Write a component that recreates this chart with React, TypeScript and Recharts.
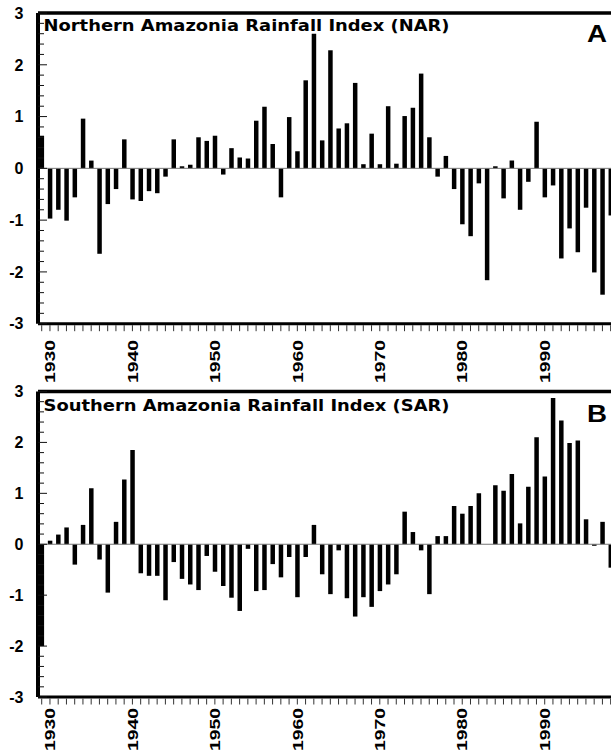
import React from 'react';
import { BarChart, Bar, XAxis, YAxis, ReferenceLine } from 'recharts';

const START_YEAR = 1929;

// Northern Amazonia Rainfall Index (NAR), 1929-1998
const narValues = [
  0.63, -0.97, -0.8, -1.01, -0.56, 0.96, 0.15, -1.65, -0.69, -0.4,
  0.56, -0.6, -0.63, -0.44, -0.48, -0.16, 0.56, 0.04, 0.07, 0.6,
  0.53, 0.63, -0.12, 0.39, 0.21, 0.19, 0.92, 1.19, 0.47, -0.56,
  0.99, 0.33, 1.7, 2.6, 0.54, 2.28, 0.77, 0.87, 1.65, 0.08,
  0.67, 0.08, 1.2, 0.09, 1.01, 1.17, 1.83, 0.6, -0.16, 0.24,
  -0.4, -1.08, -1.31, -0.29, -2.16, 0.04, -0.58, 0.15, -0.8, -0.26,
  0.9, -0.56, -0.33, -1.74, -1.16, -1.62, -0.76, -2.01, -2.44, -0.91,
];

// Southern Amazonia Rainfall Index (SAR), 1929-1998
const sarValues = [
  -2.0, 0.07, 0.19, 0.33, -0.4, 0.38, 1.1, -0.3, -0.95, 0.44,
  1.27, 1.85, -0.57, -0.62, -0.62, -1.1, -0.35, -0.68, -0.79, -0.9,
  -0.23, -0.54, -0.82, -1.05, -1.31, -0.09, -0.92, -0.9, -0.39, -0.65,
  -0.25, -1.04, -0.25, 0.38, -0.59, -0.98, -0.12, -1.06, -1.42, -1.04,
  -1.23, -0.92, -0.79, -0.59, 0.64, 0.24, -0.12, -0.98, 0.16, 0.16,
  0.75, 0.6, 0.75, 1.0, 0, 1.16, 1.05, 1.38, 0.41, 1.13,
  2.1, 1.33, 2.87, 2.43, 1.99, 2.04, 0.49, -0.03, 0.44, -0.46,
];

const years = narValues.map((_, i) => START_YEAR + i);
const yTicks = Array.from({ length: 31 }, (_, i) => Math.round((-3 + i * 0.2) * 10) / 10);
const X_DOMAIN: [number, number] = [1928.55, 1998.04];

const FONT_ARIAL = "'Liberation Sans', Arial, sans-serif";

const YearTick = (props: any) => {
  const { x, y, payload, gap } = props;
  const year = payload.value;
  return (
    <g>
      <line x1={x} y1={y + 1.5} x2={x} y2={y + 7.5} stroke="#333" strokeWidth={1} />
      {year % 10 === 0 && (
        <text
          transform={`translate(${x},${y + gap}) rotate(-90)`}
          textAnchor="end"
          dy="0.35em"
          fontSize={15}
          fontWeight="bold"
          fontFamily={FONT_ARIAL}
          textLength={43}
          lengthAdjust="spacingAndGlyphs"
          fill="#000"
        >
          {year}
        </text>
      )}
    </g>
  );
};

const ValueTick = (props: any) => {
  const { x, y, payload } = props;
  const v = payload.value;
  const major = Math.abs(v - Math.round(v)) < 1e-6;
  return (
    <g>
      <line x1={x} y1={y} x2={x + (major ? 9 : 6)} y2={y} stroke="#111" strokeWidth={1} />
      {major && (
        <text
          x={x - 14.5}
          y={y}
          dy="0.36em"
          textAnchor="end"
          fontSize={16}
          fontWeight="bold"
          fontFamily={FONT_ARIAL}
          fill="#000"
        >
          {Math.round(v)}
        </text>
      )}
    </g>
  );
};

interface PanelProps {
  values: number[];
  title: string;
  letter: string;
  height: number;
  marginTop: number;
  plotHeight: number;
  labelGap: number;
  titleY: number;
  letterY: number;
}

const Panel = ({ values, title, letter, height, marginTop, plotHeight, labelGap, titleY, letterY }: PanelProps) => {
  const data = values.map((v, i) => ({ year: years[i], value: v }));
  return (
    <BarChart
      width={611}
      height={height}
      data={data}
      margin={{ top: marginTop, right: 0, bottom: 0, left: 0 }}
    >
      <XAxis
        dataKey="year"
        type="number"
        domain={X_DOMAIN}
        allowDataOverflow
        ticks={years}
        interval={0}
        tickSize={0}
        tickMargin={0}
        tickLine={false}
        axisLine={{ stroke: '#000', strokeWidth: 3 }}
        height={height - marginTop - plotHeight}
        tick={<YearTick gap={labelGap} />}
      />
      <YAxis
        type="number"
        domain={[-3, 3]}
        ticks={yTicks}
        interval={0}
        width={38}
        tickSize={0}
        tickMargin={0}
        tickLine={false}
        axisLine={{ stroke: '#000', strokeWidth: 4 }}
        tick={<ValueTick />}
      />
      <ReferenceLine y={0} stroke="#777" strokeWidth={1} />
      <ReferenceLine y={3} stroke="#000" strokeWidth={3.5} />
      <Bar dataKey="value" fill="#000" barSize={4.5} isAnimationActive={false} />
      <text
        x={43.5}
        y={titleY}
        fontSize={15}
        fontWeight="bold"
        fontFamily="'DejaVu Sans', Verdana, sans-serif"
        textLength={406}
        lengthAdjust="spacingAndGlyphs"
        fill="#000"
      >
        {title}
      </text>
      <text
        x={587}
        y={letterY}
        fontSize={24}
        fontWeight="bold"
        fontFamily={FONT_ARIAL}
        textLength={20}
        lengthAdjust="spacingAndGlyphs"
        fill="#000"
      >
        {letter}
      </text>
    </BarChart>
  );
};

export default function App() {
  return (
    <div
      style={{
        position: 'absolute',
        left: 0,
        top: 0,
        width: 611,
        height: 752,
        overflow: 'hidden',
        background: '#fff',
      }}
    >
      <div style={{ position: 'absolute', left: 0, top: 378 }}>
        <Panel
          values={sarValues}
          title="Southern Amazonia Rainfall Index (SAR)"
          letter="B"
          height={374}
          marginTop={13.5}
          plotHeight={305.5}
          labelGap={11}
          titleY={32.7}
          letterY={43.7}
        />
      </div>
      <div style={{ position: 'absolute', left: 0, top: 0 }}>
        <Panel
          values={narValues}
          title="Northern Amazonia Rainfall Index (NAR)"
          letter="A"
          height={386}
          marginTop={13}
          plotHeight={310.7}
          labelGap={16.3}
          titleY={30.7}
          letterY={41.7}
        />
      </div>
    </div>
  );
}
